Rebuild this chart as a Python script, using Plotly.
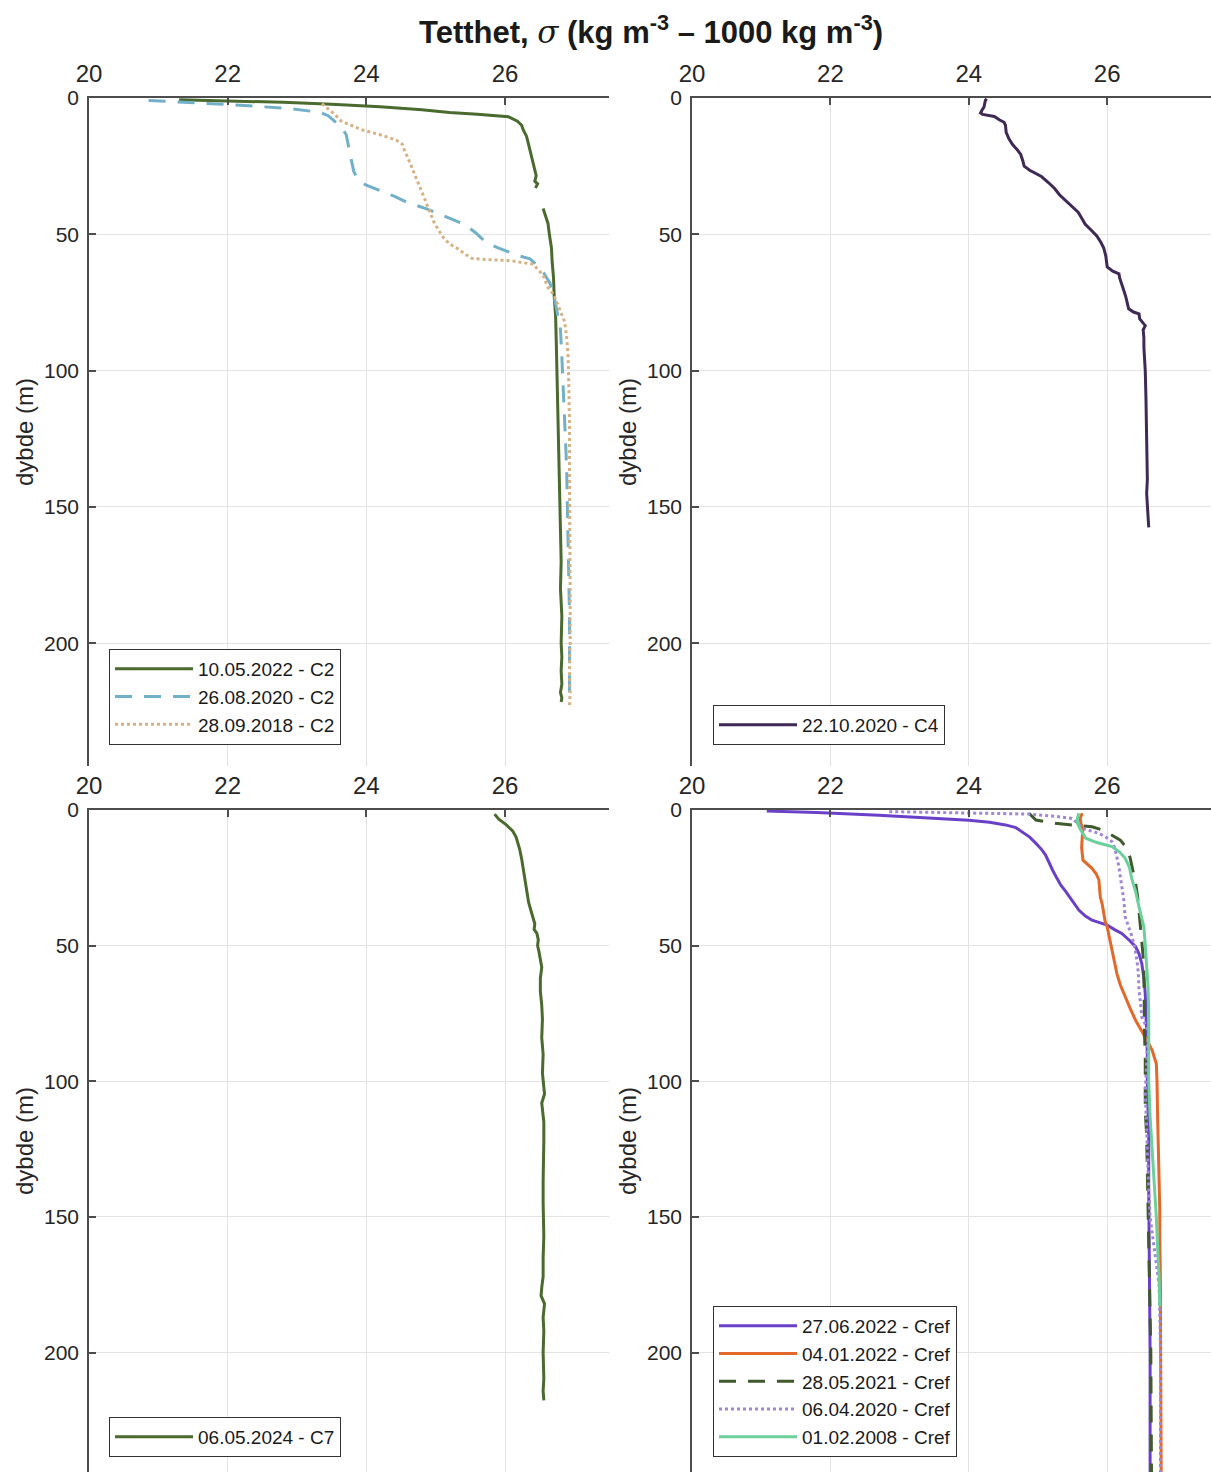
import plotly.graph_objects as go

W, H = 1211, 1472

# ---------------- data ----------------
# Panel 1 (C2)
c2_2022_depth = [0.6, 1.0, 1.6, 2.3, 3.2, 4.3, 5.3, 6.0, 6.9, 8.5, 10.0, 11.5, 14, 17, 20, 23, 26, 28.5, 30.5, 31.5, 33, None,
                 40.5, 43, 46, 50, 55, 60, 66, 73, 80, 90, 100, 110, 120, 130, 140, 150, 160, 170, 180, 190, 200,
                 205, 210, 215, 218, 220, 221.5]
c2_2022_sigma = [21.30, 22.0, 22.8, 23.5, 24.2, 24.8, 25.2, 25.6, 26.05, 26.18, 26.24, 26.26, 26.31, 26.34, 26.37, 26.40,
                 26.42, 26.45, 26.43, 26.47, 26.44, None,
                 26.55, 26.58, 26.62, 26.64, 26.67, 26.68, 26.70, 26.71, 26.73, 26.74, 26.75, 26.76, 26.77, 26.78,
                 26.79, 26.80, 26.80, 26.81, 26.80, 26.82, 26.81, 26.82, 26.81, 26.82, 26.80, 26.82, 26.81]

c2_2020_depth = [0.9, 1.5, 2.4, 3.2, 4.0, 5.3, 6.5, 8.5, 11, 13.5, 18, 22.4, 27, 30, 32, 33.8, 36, 38.2, 40.5, 42.7,
                 44.5, 46.4, 49.5, 52.8, 55, 56.5, 58, 59, 61.5, 64.2, 68, 73, 79, 85, 95, 105, 118, 130, 137, 150,
                 157, 170, 176, 189, 200, 209, 215, 220, 222.5]
c2_2020_sigma = [20.86, 21.4, 22.0, 22.5, 22.94, 23.34, 23.45, 23.54, 23.65, 23.71, 23.74, 23.78, 23.82, 23.88, 24.0,
                 24.18, 24.4, 24.58, 24.85, 25.07, 25.25, 25.42, 25.58, 25.72, 25.9, 26.06, 26.22, 26.36, 26.47,
                 26.56, 26.65, 26.71, 26.76, 26.80, 26.82, 26.84, 26.86, 26.88, 26.89, 26.90, 26.91, 26.92, 26.92,
                 26.93, 26.93, 26.93, 26.94, 26.94, 26.93]

c2_2018_depth = [2.1, 4, 5.9, 8.5, 10, 11.6, 13.5, 15.4, 17, 19.2, 22, 24.9, 28, 31.3, 35, 38.8, 42, 45.2, 48, 51.5,
                 53.5, 55.3, 57.5, 58.8, 59.2, 59.5, 59.7, 60.2, 61, 63, 65, 67, 69.2, 72, 75.6, 78, 82, 88, 95,
                 105, 120, 140, 160, 180, 200, 210, 218, 223]
c2_2018_sigma = [23.36, 23.45, 23.54, 23.64, 23.78, 23.93, 24.2, 24.43, 24.52, 24.55, 24.60, 24.65, 24.70, 24.75,
                 24.81, 24.87, 24.92, 24.97, 25.03, 25.12, 25.20, 25.32, 25.44, 25.52, 25.70, 25.90, 26.10, 26.21,
                 26.41, 26.48, 26.55, 26.58, 26.61, 26.70, 26.76, 26.80, 26.86, 26.89, 26.91, 26.92, 26.93, 26.93,
                 26.94, 26.94, 26.94, 26.93, 26.94, 26.93]

# Panel 2 (C4)
c4_depth = [0.3, 0.8, 2, 3.3, 4.5, 5.5, 6.0, 6.8, 8.0, 8.9, 10, 12.6, 15, 17, 19, 20.7, 23, 25, 26.5, 28.8, 31, 33.2,
            35.5, 37.5, 39.5, 41.9, 44, 46.2, 48.5, 50.6, 53, 55, 58, 62, 63.5, 64.5, 66, 68, 70.6, 73, 75, 77.3,
            78.5, 79.2, 81, 83.5, 85, 88, 91.4, 95, 100, 110, 120, 130, 140, 145, 150, 154, 157.5]
c4_sigma = [24.26, 24.24, 24.23, 24.22, 24.19, 24.17, 24.20, 24.37, 24.44, 24.51, 24.53, 24.54, 24.58, 24.63, 24.70,
            24.75, 24.78, 24.80, 24.88, 25.05, 25.15, 25.24, 25.31, 25.39, 25.47, 25.58, 25.63, 25.68, 25.77, 25.85,
            25.91, 25.95, 25.98, 26.0, 26.08, 26.17, 26.18, 26.21, 26.24, 26.27, 26.29, 26.31, 26.38, 26.46, 26.47,
            26.55, 26.52, 26.53, 26.53, 26.54, 26.55, 26.56, 26.57, 26.57, 26.58, 26.57, 26.58, 26.59, 26.60]

# Panel 3 (C7)
c7_depth = [1.5, 3.4, 5.5, 7.7, 10, 14.3, 18, 21.6, 26, 30.3, 34, 37.6, 40, 42, 44, 45.5, 47.8, 50, 52.2, 55, 58, 62,
            66.8, 72, 77, 84, 90, 97, 104.7, 108, 110.5, 115, 122, 130, 136.7, 145, 157, 165, 172, 176, 179, 182,
            187, 192, 200, 209.6, 214, 217.6]
c7_sigma = [25.85, 25.91, 26.02, 26.11, 26.16, 26.21, 26.24, 26.26, 26.29, 26.31, 26.34, 26.38, 26.41, 26.43, 26.42,
            26.46, 26.48, 26.47, 26.49, 26.51, 26.53, 26.51, 26.51, 26.53, 26.54, 26.53, 26.55, 26.54, 26.57, 26.53,
            26.54, 26.56, 26.56, 26.55, 26.55, 26.55, 26.56, 26.55, 26.55, 26.53, 26.52, 26.57, 26.55, 26.56, 26.55,
            26.56, 26.55, 26.56]

# Panel 4 (Cref)
cref_2022a_depth = [0.4, 0.9, 1.9, 3.0, 3.8, 4.5, 5.5, 6.5, 8, 10, 12.3, 14.5, 16.6, 19.5, 22.1, 25, 27.7, 30, 32.6,
                    35, 36.9, 39, 40.6, 41.5, 42.4, 44, 45.5, 48, 50.4, 53, 56.6, 62, 67.6, 75, 82.4, 90, 100, 110,
                    120, 140, 160, 180, 200, 220, 245]
cref_2022a_sigma = [21.08, 21.8, 22.7, 23.5, 24.0, 24.3, 24.53, 24.68, 24.77, 24.88, 24.97, 25.05, 25.11, 25.16,
                    25.21, 25.27, 25.33, 25.40, 25.47, 25.54, 25.59, 25.68, 25.78, 25.89, 26.0, 26.10, 26.21, 26.32,
                    26.41, 26.46, 26.50, 26.53, 26.55, 26.56, 26.57, 26.58, 26.58, 26.59, 26.60, 26.60, 26.61, 26.61,
                    26.62, 26.62, 26.62]

cref_2022b_depth = [1.2, 3, 4.9, 7, 9.8, 14, 18.5, 20, 21.5, 23.5, 25.8, 29, 32, 35, 38.1, 41, 43.1, 47, 51.7, 56,
                    60.3, 64.5, 68.9, 73, 77.5, 80.5, 83.7, 86, 88.6, 91, 93.5, 100, 107, 115, 125.5, 135, 147.6, 156,
                    166, 175, 187, 200, 215, 230, 245]
cref_2022b_sigma = [25.64, 25.61, 25.62, 25.65, 25.64, 25.63, 25.65, 25.72, 25.78, 25.84, 25.88, 25.89, 25.90, 25.93,
                    25.95, 25.97, 26.0, 26.03, 26.07, 26.10, 26.14, 26.19, 26.26, 26.33, 26.41, 26.48, 26.55, 26.60,
                    26.65, 26.68, 26.71, 26.72, 26.72, 26.73, 26.74, 26.75, 26.76, 26.76, 26.77, 26.77, 26.77, 26.77,
                    26.78, 26.77, 26.78]

cref_2021_depth = [1.2, 2.5, 3.7, 4.9, 6.2, 7.5, 9.2, 11.1, 13, 14.8, 17.5, 20.9, 24, 27, 32, 36.9, 42, 48, 54, 60.3,
                   67, 75, 83, 91, 100, 110.7, 120, 131.6, 142, 152.5, 164, 174.6, 186, 199, 212, 224, 235, 245]
cref_2021_sigma = [24.87, 24.92, 24.97, 25.25, 25.78, 25.95, 26.07, 26.19, 26.25, 26.29, 26.33, 26.36, 26.39, 26.41,
                   26.44, 26.46, 26.48, 26.50, 26.52, 26.53, 26.53, 26.54, 26.54, 26.55, 26.55, 26.55, 26.57, 26.58,
                   26.59, 26.60, 26.61, 26.62, 26.62, 26.63, 26.63, 26.64, 26.64, 26.64]

cref_2020_depth = [0.6, 0.8, 1.0, 1.3, 1.5, 2.2, 3.1, 5, 6.7, 7.7, 8.6, 10, 11.7, 14, 17.2, 21, 24.6, 29, 33.2, 39.4,
                   43, 46.8, 51, 55.4, 60, 66.4, 71, 76.3, 79.5, 82.4, 87, 92.3, 98, 104.5, 110, 120, 130, 140, 150,
                   158, 165, 170, 175, 185, 200, 220, 245]
cref_2020_sigma = [22.85, 23.3, 24.0, 24.5, 24.87, 25.2, 25.49, 25.58, 25.64, 25.76, 25.88, 25.98, 26.07, 26.11,
                   26.14, 26.17, 26.19, 26.22, 26.24, 26.26, 26.31, 26.36, 26.40, 26.43, 26.45, 26.46, 26.48, 26.50,
                   26.56, 26.60, 26.58, 26.57, 26.56, 26.55, 26.56, 26.57, 26.58, 26.60, 26.62, 26.66, 26.70, 26.73,
                   26.75, 26.76, 26.77, 26.77, 26.77]

cref_2008_depth = [1.2, 3, 4.9, 7.5, 10.4, 12, 13.5, 15.5, 17.8, 21, 25.8, 30, 35.7, 40, 43.1, 50, 56.6, 65, 75, 88.6,
                   100, 113, 125, 137.8, 150, 162, 172, 183]
cref_2008_sigma = [25.59, 25.57, 25.57, 25.62, 25.69, 25.85, 26.07, 26.18, 26.26, 26.32, 26.36, 26.41, 26.46, 26.50,
                   26.53, 26.55, 26.57, 26.59, 26.60, 26.60, 26.60, 26.62, 26.65, 26.69, 26.71, 26.73, 26.75, 26.76]

x_ticks = [20, 22, 24, 26]
y_ticks = [0, 50, 100, 150, 200]

# ---------------- figure ----------------
FONT = "Liberation Sans, Arial, Helvetica, sans-serif"
TXT = "#262626"
AX = "#4d4d4d"
GRID = "#e3e3e3"

fig = go.Figure()


def add(x, y, name, color, dash, ax, legend):
    fig.add_trace(go.Scatter(
        x=x, y=y, mode="lines", name=name,
        line=dict(color=color, width=3, dash=dash),
        xaxis=ax[0], yaxis=ax[1], legend=legend, connectgaps=False,
    ))


GREEN = "#4b6a2f"
add(c2_2022_sigma, c2_2022_depth, "10.05.2022 - C2", GREEN, "solid", ("x", "y"), "legend")
add(c2_2020_sigma, c2_2020_depth, "26.08.2020 - C2", "#72b0c8", "17px,12px", ("x", "y"), "legend")
add(c2_2018_sigma, c2_2018_depth, "28.09.2018 - C2", "#d6b283", "3px,3px", ("x", "y"), "legend")

add(c4_sigma, c4_depth, "22.10.2020 - C4", "#3e2a55", "solid", ("x2", "y2"), "legend2")

add(c7_sigma, c7_depth, "06.05.2024 - C7", GREEN, "solid", ("x3", "y3"), "legend3")

add(cref_2022a_sigma, cref_2022a_depth, "27.06.2022 - Cref", "#6a40c9", "solid", ("x4", "y4"), "legend4")
add(cref_2022b_sigma, cref_2022b_depth, "04.01.2022 - Cref", "#e2682b", "solid", ("x4", "y4"), "legend4")
add(cref_2021_sigma, cref_2021_depth, "28.05.2021 - Cref", "#3f5a2c", "17px,12px", ("x4", "y4"), "legend4")
add(cref_2020_sigma, cref_2020_depth, "06.04.2020 - Cref", "#9f86d6", "3px,3px", ("x4", "y4"), "legend4")
add(cref_2008_sigma, cref_2008_depth, "01.02.2008 - Cref", "#6dcf9c", "solid", ("x4", "y4"), "legend4")


def px_x(p):
    return p / W


def px_y(p):
    return 1 - p / H


def xaxis(domain, anchor):
    return dict(
        domain=domain, anchor=anchor, side="top", range=[20, 27.5],
        tickvals=x_ticks, ticktext=[str(v) for v in x_ticks],
        showgrid=True, gridcolor=GRID, gridwidth=1,
        showline=True, linecolor=AX, linewidth=1.5, mirror=False,
        ticks="inside", ticklen=7, tickcolor=AX, tickwidth=1.5,
        tickfont=dict(family=FONT, size=24, color=TXT),
        ticklabelstandoff=5, zeroline=False, automargin=False,
    )


def yaxis(domain, anchor, rng):
    return dict(
        domain=domain, anchor=anchor, range=rng,
        tickvals=y_ticks, ticktext=[str(v) for v in y_ticks],
        showgrid=True, gridcolor=GRID, gridwidth=1,
        showline=True, linecolor=AX, linewidth=1.5, mirror=False,
        ticks="inside", ticklen=7, tickcolor=AX, tickwidth=1.5,
        tickfont=dict(family=FONT, size=21, color=TXT),
        ticklabelstandoff=4, zeroline=False, automargin=False,
        title=dict(text="dybde (m)", font=dict(family=FONT, size=24, color=TXT), standoff=4),
    )


xl = [px_x(89), px_x(609)]
xr = [px_x(692), 1.0]
yt = [px_y(766), px_y(98)]
yb = [0.0, px_y(810)]


def legend(xpix, ybottom):
    return dict(
        x=px_x(xpix), y=px_y(ybottom), xanchor="left", yanchor="bottom",
        xref="paper", yref="paper",
        bgcolor="white", bordercolor="#333333", borderwidth=1,
        font=dict(family=FONT, size=19, color="#1a1a1a"),
        itemwidth=78, tracegroupgap=0, traceorder="normal",
    )


fig.update_layout(
    width=W, height=H,
    margin=dict(l=0, r=0, t=0, b=0),
    paper_bgcolor="white", plot_bgcolor="white",
    font=dict(family=FONT, color=TXT),
    showlegend=True,
    xaxis=xaxis(xl, "y"), yaxis=yaxis(yt, "x", [245, 0]),
    xaxis2=xaxis(xr, "y2"), yaxis2=yaxis(yt, "x2", [245, 0]),
    xaxis3=xaxis(xl, "y3"), yaxis3=yaxis(yb, "x3", [244, 0]),
    xaxis4=xaxis(xr, "y4"), yaxis4=yaxis(yb, "x4", [244, 0]),
    legend=legend(109, 745),
    legend2=legend(713, 745),
    legend3=legend(109, 1457),
    legend4=legend(713, 1457),
    annotations=[dict(
        text="<b>Tetthet, </b><span style=\"font-family:'DejaVu Serif';font-style:italic\">σ</span>"
             "<b> (kg m<sup>-3</sup> – 1000 kg m<sup>-3</sup>)</b>",
        x=px_x(651), y=px_y(30), xref="paper", yref="paper",
        xanchor="center", yanchor="middle", showarrow=False,
        font=dict(family=FONT, size=31, color="#1a1a1a"),
    )],
)

fig.write_html("out.html")
